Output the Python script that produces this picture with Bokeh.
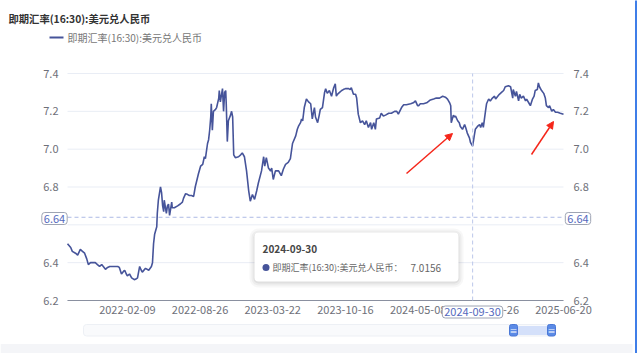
from bokeh.plotting import figure
from bokeh.models import Range1d, Label, BoxAnnotation, Arrow, NormalHead
from bokeh.core.properties import value
from bokeh.embed import file_html
from bokeh.resources import INLINE

# ---------------- data ----------------
title_text = "即期汇率(16:30):美元兑人民币"
series_name = "即期汇率(16:30):美元兑人民币"

# trading-day index (0 = first day shown, 928 = 2025-06-20)
days = [
    0, 6, 9, 15, 19, 24, 28, 32, 36, 39,
    43, 49, 52, 56, 60, 64, 67, 71, 75, 79,
    84, 90, 94, 97, 101, 105, 107, 110, 112, 116,
    120, 125, 129, 131, 135, 138, 140, 146, 152, 157,
    159, 161, 163, 167, 168, 170, 174, 176, 178, 180,
    181, 185, 187, 189, 191, 195, 196, 200, 206, 211,
    215, 217, 221, 225, 228, 232, 236, 239, 245, 249,
    253, 256, 258, 262, 264, 266, 268, 269, 271, 273,
    277, 279, 283, 284, 286, 290, 292, 294, 296, 297,
    299, 301, 305, 307, 309, 311, 314, 320, 324, 327,
    331, 335, 339, 342, 346, 350, 354, 357, 363, 367,
    369, 372, 376, 380, 382, 385, 389, 395, 400, 404,
    408, 413, 417, 421, 427, 430, 432, 436, 438, 440,
    443, 447, 451, 455, 458, 460, 462, 464, 468, 471,
    473, 477, 481, 483, 486, 490, 494, 498, 501, 503,
    505, 509, 513, 516, 520, 526, 529, 531, 535, 539,
    541, 544, 548, 552, 556, 559, 563, 567, 569, 573,
    576, 578, 584, 587, 591, 595, 601, 606, 612, 616,
    619, 625, 629, 634, 642, 647, 651, 655, 657, 660,
    666, 672, 679, 685, 690, 696, 702, 707, 711, 715,
    717, 718, 722, 724, 726, 730, 733, 735, 739, 743,
    745, 748, 752, 754, 756, 758, 761, 763, 767, 771,
    773, 776, 778, 782, 784, 788, 791, 795, 799, 801,
    805, 808, 812, 816, 819, 825, 829, 833, 834, 838,
    840, 844, 846, 849, 853, 857, 859, 864, 866, 870,
    873, 875, 879, 881, 883, 887, 891, 894, 896, 900,
    902, 906, 909, 913, 917, 922, 928,
]
rates = [
    6.50, 6.48, 6.46, 6.45, 6.44, 6.47, 6.46, 6.45, 6.42, 6.39,
    6.40, 6.40, 6.40, 6.39, 6.38, 6.39, 6.38, 6.365, 6.375, 6.38,
    6.38, 6.38, 6.38, 6.375, 6.34, 6.355, 6.36, 6.34, 6.33, 6.34,
    6.32, 6.31, 6.315, 6.32, 6.38, 6.36, 6.35, 6.37, 6.36, 6.38,
    6.40, 6.50, 6.55, 6.59, 6.66, 6.73, 6.80, 6.77, 6.70, 6.67,
    6.73, 6.66, 6.70, 6.71, 6.65, 6.72, 6.69, 6.69, 6.70, 6.71,
    6.72, 6.74, 6.765, 6.76, 6.755, 6.755, 6.75, 6.80, 6.87, 6.91,
    6.92, 6.96, 6.95, 7.03, 7.05, 7.10, 7.17, 7.24, 7.10, 7.20,
    7.21, 7.22, 7.27, 7.31, 7.25, 7.32, 7.20, 7.30, 7.31, 7.24,
    7.04, 7.15, 7.18, 7.20, 7.17, 6.97, 6.955, 6.96, 6.97, 6.98,
    6.96, 6.885, 6.78, 6.725, 6.76, 6.735, 6.78, 6.82, 6.885, 6.96,
    6.91, 6.955, 6.90, 6.885, 6.90, 6.84, 6.885, 6.885, 6.86, 6.895,
    6.92, 6.93, 6.95, 7.03, 7.07, 7.105, 7.12, 7.14, 7.16, 7.15,
    7.22, 7.265, 7.25, 7.24, 7.16, 7.19, 7.22, 7.17, 7.14, 7.18,
    7.21, 7.22, 7.30, 7.32, 7.295, 7.31, 7.28, 7.325, 7.345, 7.28,
    7.29, 7.30, 7.31, 7.315, 7.32, 7.32, 7.315, 7.325, 7.29, 7.29,
    7.27, 7.185, 7.14, 7.15, 7.13, 7.15, 7.115, 7.14, 7.105, 7.14,
    7.105, 7.16, 7.165, 7.19, 7.175, 7.18, 7.19, 7.19, 7.20, 7.20,
    7.185, 7.22, 7.235, 7.235, 7.24, 7.245, 7.255, 7.23, 7.23, 7.24,
    7.24, 7.245, 7.26, 7.265, 7.27, 7.27, 7.28, 7.275, 7.265, 7.245,
    7.23, 7.14, 7.18, 7.17, 7.175, 7.15, 7.14, 7.12, 7.105, 7.13,
    7.115, 7.085, 7.06, 7.035, 7.026, 7.0156, 7.07, 7.105, 7.12, 7.13,
    7.115, 7.14, 7.115, 7.20, 7.24, 7.265, 7.255, 7.27, 7.28, 7.265,
    7.28, 7.29, 7.30, 7.31, 7.33, 7.335, 7.33, 7.27, 7.315, 7.28,
    7.305, 7.255, 7.29, 7.27, 7.28, 7.255, 7.265, 7.24, 7.23, 7.265,
    7.28, 7.31, 7.315, 7.35, 7.33, 7.31, 7.295, 7.27, 7.23, 7.22,
    7.23, 7.20, 7.21, 7.195, 7.195, 7.19, 7.185,
]
assert len(days) == len(rates)

x_tick_days = [112, 248, 384, 520, 656, 792, 928]
x_tick_labels = ["2022-02-09", "2022-08-26", "2023-03-22", "2023-10-16",
                 "2024-05-08", "2024-11-26", "2025-06-20"]
y_ticks = [6.2, 6.4, 6.6, 6.8, 7.0, 7.2, 7.4]

cross_day = 758
cross_date = "2024-09-30"
cross_value = 7.0156
pointer_value = 6.64

# ---------------- layout / style ----------------
W, H = 640, 353
FL, FR, FT, FB = 67, 563, 73, 300        # plot-area box on the page
X0, X1 = 0, 928                          # data extent on x
Y0, Y1 = 6.2, 7.4                        # data extent on y
FONT = "Noto Sans CJK SC"
LINE = "#46549a"
RED = "#f5261a"
AXIS_TXT = "#6e7079"
PTR = "#5469bd"
GRID = "#e9edf5"


def sx(px):
    return X0 + (px - FL) * (X1 - X0) / (FR - FL)


def sy(py):
    return Y0 + (FB - py) * (Y1 - Y0) / (FB - FT)


# frame spans the full page so that every element renders (nothing is clipped)
p = figure(width=W, height=H, output_backend="svg", toolbar_location=None,
           title=None, x_axis_location=None, y_axis_location=None,
           x_range=Range1d(sx(0), sx(W)), y_range=Range1d(sy(H), sy(0)),
           min_border_left=0, min_border_right=0, min_border_top=0, min_border_bottom=0)
p.outline_line_color = None
p.background_fill_color = "white"
p.border_fill_color = "white"
p.grid.visible = False

n_y = len(y_ticks)
y_labels = ["" if abs(t - pointer_value) < 0.05 else f"{t:.1f}" for t in y_ticks]

# horizontal grid lines at the y ticks
p.segment(x0=[X0] * n_y, y0=y_ticks, x1=[X1] * n_y, y1=y_ticks,
          line_color=GRID, line_width=1)
# bottom axis line
p.segment(x0=[X0], y0=[Y0], x1=[X1], y1=[Y0], line_color="#8a90a0", line_width=1)

# y tick labels (left and right)
p.text(x=[X0] * n_y, y=y_ticks, text=y_labels, x_offset=-9,
       text_align="right", text_baseline="middle",
       text_font=value(FONT), text_font_size="11px", text_color=AXIS_TXT)
p.text(x=[X1] * n_y, y=y_ticks, text=y_labels, x_offset=10,
       text_align="left", text_baseline="middle",
       text_font=value(FONT), text_font_size="11px", text_color=AXIS_TXT)
# x tick labels
p.text(x=x_tick_days, y=[Y0] * len(x_tick_days), text=x_tick_labels, y_offset=5,
       text_align="center", text_baseline="top",
       text_font=value(FONT), text_font_size="11px", text_color=AXIS_TXT)

# series
p.line(days, rates, line_color=LINE, line_width=1.6)

# crosshair (dashed)
p.add_layout(Arrow(end=None, x_start=X0, y_start=pointer_value, x_end=X1, y_end=pointer_value,
                   line_color="#aebbe6", line_dash="4 3", line_width=1))
p.add_layout(Arrow(end=None, x_start=cross_day, y_start=Y0, x_end=cross_day, y_end=Y1,
                   line_color="#bcc7ea", line_dash="4 3", line_width=1))


def box(l, r, t, b, fill, alpha=1.0, line=None, radius=0):
    ba = BoxAnnotation(left=sx(l), right=sx(r), top=sy(t), bottom=sy(b),
                       fill_color=fill, fill_alpha=alpha, border_radius=int(radius),
                       line_color=line if line else "white",
                       line_alpha=1.0 if line else 0.0)
    p.add_layout(ba)
    return ba


def label(px, py, text, size="11px", color="#333333", bold=False, align="left",
          bg=None, border=None, pad=0, radius=0):
    lb = Label(x=sx(px), y=sy(py), text=text, text_font=FONT, text_font_size=size,
               text_color=color, text_font_style="bold" if bold else "normal",
               text_align=align, text_baseline="middle")
    if bg:
        lb.background_fill_color = bg
        lb.background_fill_alpha = 1.0
        lb.padding = pad
    if border:
        lb.border_line_color = border
        lb.border_line_alpha = 1.0
        lb.border_radius = int(radius)
    p.add_layout(lb)
    return lb


# title & legend
label(8, 18, title_text, size="10.3px", color="#333333", bold=True)
p.add_layout(Arrow(end=None, x_start=sx(49), y_start=sy(37), x_end=sx(63), y_end=sy(37),
                   line_color=LINE, line_width=2))
label(67, 37, series_name, size="10px", color="#777777")

# tooltip (shadow + box)
for grow, a in [(5, 0.03), (3, 0.04), (1, 0.06)]:
    box(254 - grow, 458 + grow, 232 - grow + 1, 281 + grow + 1, "#000000", alpha=a, radius=4 + grow)
box(254, 458, 232, 281, "white", radius=4)
label(262, 248, cross_date, size="10px", color="#464646", bold=True)
box(262, 269, 263.5, 270.5, LINE, radius=4)
label(272, 267, series_name + "：", size="9px", color="#666666")
label(410, 267, f"{cross_value:.4f}", size="10px", color="#666666")

# axis-pointer labels
for px in (54, 577.5):
    label(px, 218, f"{pointer_value:.2f}", size="11px", color=PTR, align="center",
          bg="white", border="#9ea4b3", pad=2, radius=3)
label(472, 311.5, cross_date, size="11px", color=PTR, align="center",
      bg="white", border="#9ea4b3", pad=2, radius=3)

# red arrows
for (x0, y0, x1, y1) in [(406, 173, 452, 133), (531, 154, 553, 121)]:
    p.add_layout(Arrow(end=NormalHead(size=7, fill_color=RED, line_color=RED),
                       x_start=sx(x0), y_start=sy(y0), x_end=sx(x1), y_end=sy(y1),
                       line_color=RED, line_width=1.5))

# data-zoom slider
box(83, 555, 324, 335.5, "#f9fafc", line="#edf0f5", radius=3)
box(517, 547, 325.5, 334.5, "#d4e0fa")
for hl in (509, 547):
    box(hl, hl + 8, 324, 335.5, "#5b8ae6", line="#4a78d6", radius=2)
    label(hl + 4, 329.7, "≡", size="8px", color="white", align="center")

# page chrome
box(0, 632, 343.5, 360, "#f4f5f8")
box(634.5, 636.5, -5, 358, "#3f7ee8")

open("out.html", "w").write(file_html(p, INLINE))
